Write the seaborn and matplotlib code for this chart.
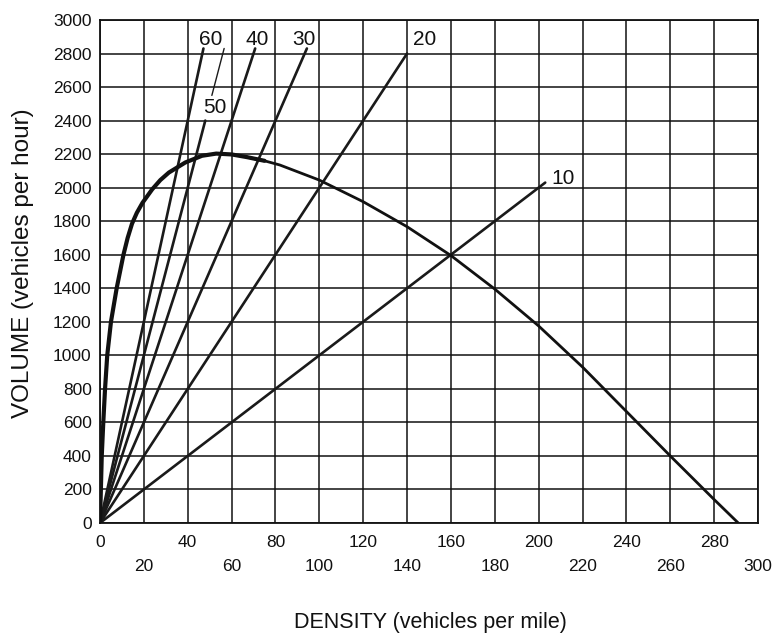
import matplotlib
matplotlib.use("Agg")
import matplotlib.pyplot as plt
import seaborn as sns
import pandas as pd

# Speed-flow-density relationship: volume vs. density
density = [0, 0.4, 0.8, 1.5, 2.3, 3.3, 5.0, 7.6, 10.7, 12.6, 14.6, 16.8, 19.4,
           23.8, 27.5, 31.4, 38.9, 46.5, 53, 60, 67, 75, 82, 90, 100, 120,
           140, 160, 180, 200, 220, 240, 260, 280, 291]
volume = [0, 200, 400, 600, 800, 1000, 1200, 1400, 1600, 1700, 1785, 1850,
          1910, 1990, 2045, 2090, 2150, 2190, 2203, 2198, 2182, 2160, 2135,
          2095, 2045, 1916, 1767, 1595, 1395, 1175, 930, 665, 400, 140, 0]

# Constant-speed rays (mph) and the volume where each ray stops
speeds = [10, 20, 30, 40, 50, 60]
ray_end_volume = [2030, 2800, 2830, 2830, 2400, 2830]
# the 50 mph ray continues above its label as a thin segment
speed50_upper = [2550, 2830]

label_pos = {10: (211, 2057), 20: (148, 2885), 30: (93, 2885),
             40: (71.5, 2885), 50: (52.5, 2475), 60: (50.5, 2885)}

x_ticks = list(range(0, 301, 20))
y_ticks = list(range(0, 3001, 200))

sns.set_theme(style="white")
plt.rcParams["font.family"] = ["Liberation Sans", "DejaVu Sans"]

fig = plt.figure(figsize=(7.74, 6.38), dpi=100)
ax = fig.add_axes([0.1292, 0.1803, 0.8501, 0.7884])

# rays from the origin
for v, qend in zip(speeds, ray_end_volume):
    ray = pd.DataFrame({"k": [0, qend / v], "q": [0, qend]})
    sns.lineplot(data=ray, x="k", y="q", ax=ax, color="#1a1a1a", lw=1.9,
                 sort=False, estimator=None)
upper = pd.DataFrame({"k": [q / 50 for q in speed50_upper], "q": speed50_upper})
sns.lineplot(data=upper, x="k", y="q", ax=ax, color="#1a1a1a", lw=1.0,
             sort=False, estimator=None)

# volume-density curve: heavier near capacity, lighter in the congested branch
curve = pd.DataFrame({"k": density, "q": volume})
sns.lineplot(data=curve[curve.k <= 75], x="k", y="q", ax=ax, color="#111111",
             lw=3.0, sort=False, estimator=None)
sns.lineplot(data=curve[curve.k >= 67], x="k", y="q", ax=ax, color="#111111",
             lw=2.0, sort=False, estimator=None)

for v in speeds:
    x, y = label_pos[v]
    ax.text(x, y, str(v), fontsize=15, ha="center", va="center", color="#111111",
            zorder=5)

ax.set_xlim(0, 300)
ax.set_ylim(0, 3000)
ax.set_xticks(x_ticks)
ax.set_xticklabels([str(t) for t in x_ticks])
ax.set_yticks(y_ticks)
ax.set_yticklabels([str(t) for t in y_ticks])
ax.tick_params(axis="both", length=0, labelsize=12.5, colors="#111111")
ax.tick_params(axis="y", pad=6)
for i, tick in enumerate(ax.xaxis.get_major_ticks()):
    tick.set_pad(9 if i % 2 == 0 else 26)

ax.grid(True, color="#111111", lw=1.1)
ax.set_axisbelow(True)
for s in ax.spines.values():
    s.set_color("#111111")
    s.set_linewidth(1.3)

ax.set_xlabel("")
ax.set_ylabel("")
fig.text(0.556, 0.025, "DENSITY (vehicles per mile)", fontsize=15.5,
         ha="center", va="center", color="#111111")
fig.text(0.030, 0.587, "VOLUME (vehicles per hour)", fontsize=17.5,
         ha="center", va="center", rotation=90, color="#111111")

fig.savefig("out.png", dpi=100, facecolor="white")
